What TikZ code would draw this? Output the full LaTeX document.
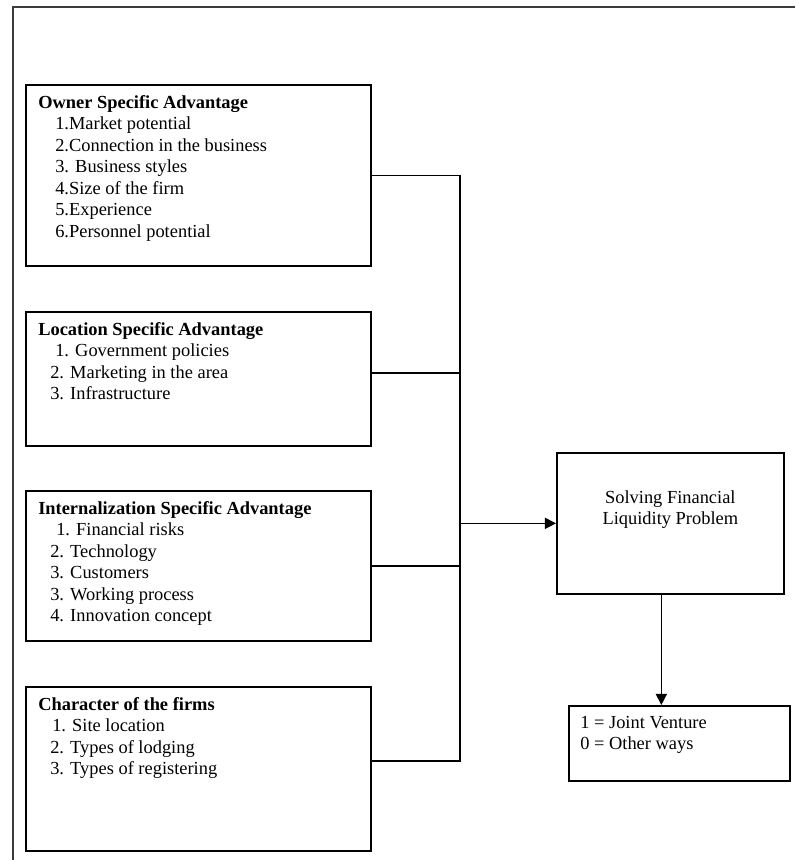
\documentclass[tikz,border=0pt]{standalone}
\usepackage{fontspec}
\setmainfont{Liberation Serif}
\usepackage{tikz}
\usetikzlibrary{arrows.meta, positioning}
\definecolor{cFrame}{RGB}{60,60,60}
\tikzset{
	factor/.style ={rectangle, draw=black, line width=1.2pt, minimum width=8.625cm, anchor=north west},
	facttxt/.style={anchor=north west, align=left, inner sep=0pt},
	outbox/.style ={rectangle, draw=black, line width=1.2pt, anchor=north west},
	link/.style   ={line width=1pt},
	sig/.style    ={-{Triangle[length=2.8mm, width=2.8mm]}, line width=1pt},
}

\begin{document}
\begin{tikzpicture}[font=\fontsize{13.1}{15.3}\selectfont]
	\useasboundingbox (0,0) rectangle (19.875,21.5);
	% page frame
	\coordinate (fr) at (19.875,21.325);
	\coordinate (fl) at (0.325,21.325);
	\coordinate (fb) at (0.325,0);
	\draw[line width=2pt, cFrame] (fr) -- (fl) -- (fb);
	% the four groups of factors
	\node[factor, minimum height=4.525cm] (own) at (0.625,19.4) {};
	\node[factor, minimum height=3.35cm] (loc) at (0.625,13.725) {};
	\node[factor, minimum height=3.75cm] (intl) at (0.625,9.25) {};
	\node[factor, minimum height=4.1cm] (firm) at (0.625,4.35) {};
	\node[facttxt, below right=0.27cm and 0.325cm of own.north west] (ownlist) {\textbf{Owner Specific Advantage}\\
		\hspace*{4.25mm}1.Market potential\\ \hspace*{4.25mm}2.Connection in the business\\
		\hspace*{4.25mm}3. Business styles\\ \hspace*{4.25mm}4.Size of the firm\\
		\hspace*{4.25mm}5.Experience\\ \hspace*{4.25mm}6.Personnel potential};
	\node[facttxt, below right=0.27cm and 0.325cm of loc.north west] (loclist) {\textbf{Location Specific Advantage}\\
		\hspace*{4.25mm}1. Government policies\\ \hspace*{3mm}2. Marketing in the area\\
		\hspace*{3mm}3. Infrastructure};
	\node[facttxt, below right=0.27cm and 0.325cm of intl.north west] (intllist) {\textbf{Internalization Specific Advantage}\\
		\hspace*{4.5mm}1. Financial risks\\ \hspace*{3mm}2. Technology\\ \hspace*{3mm}3. Customers\\
		\hspace*{3mm}3. Working process\\ \hspace*{3mm}4. Innovation concept};
	\node[facttxt, below right=0.27cm and 0.325cm of firm.north west] (firmlist) {\textbf{Character of the firms}\\
		\hspace*{3.5mm}1. Site location\\ \hspace*{3mm}2. Types of lodging\\
		\hspace*{3mm}3. Types of registering};
	% problem and outcome
	\node[outbox, minimum width=5.675cm, minimum height=3.525cm] (prob) at (13.9,10.2) {};
	\node[facttxt, anchor=north, align=center, below=0.95cm of prob.north] (probtxt) {Solving Financial\\ Liquidity Problem};
	\node[outbox, minimum width=5.525cm, minimum height=1.875cm] (res) at (14.2,3.875) {};
	\node[facttxt, below right=0.27cm and 0.3cm of res.north west] (restxt) {1 = Joint Venture\\ 0 = Other ways};
	% connectors
	\coordinate (jn) at (prob.west -| 11.5,0);
	\draw[link] (own.east) -- (own.east -| jn) -- ([yshift=2mm]firm.east -| jn) -- ([yshift=2mm]firm.east);
	\draw[link] ([yshift=1.5mm]loc.east) -- ([yshift=1.5mm]loc.east -| jn);
	\draw[link] (intl.east) -- (intl.east -| jn);
	\draw[sig] (jn) -- (prob.west);
	\draw[sig] ([xshift=-2.25mm]prob.south) -- ([xshift=-2.25mm]prob.south |- res.north);
\end{tikzpicture}
\end{document}
